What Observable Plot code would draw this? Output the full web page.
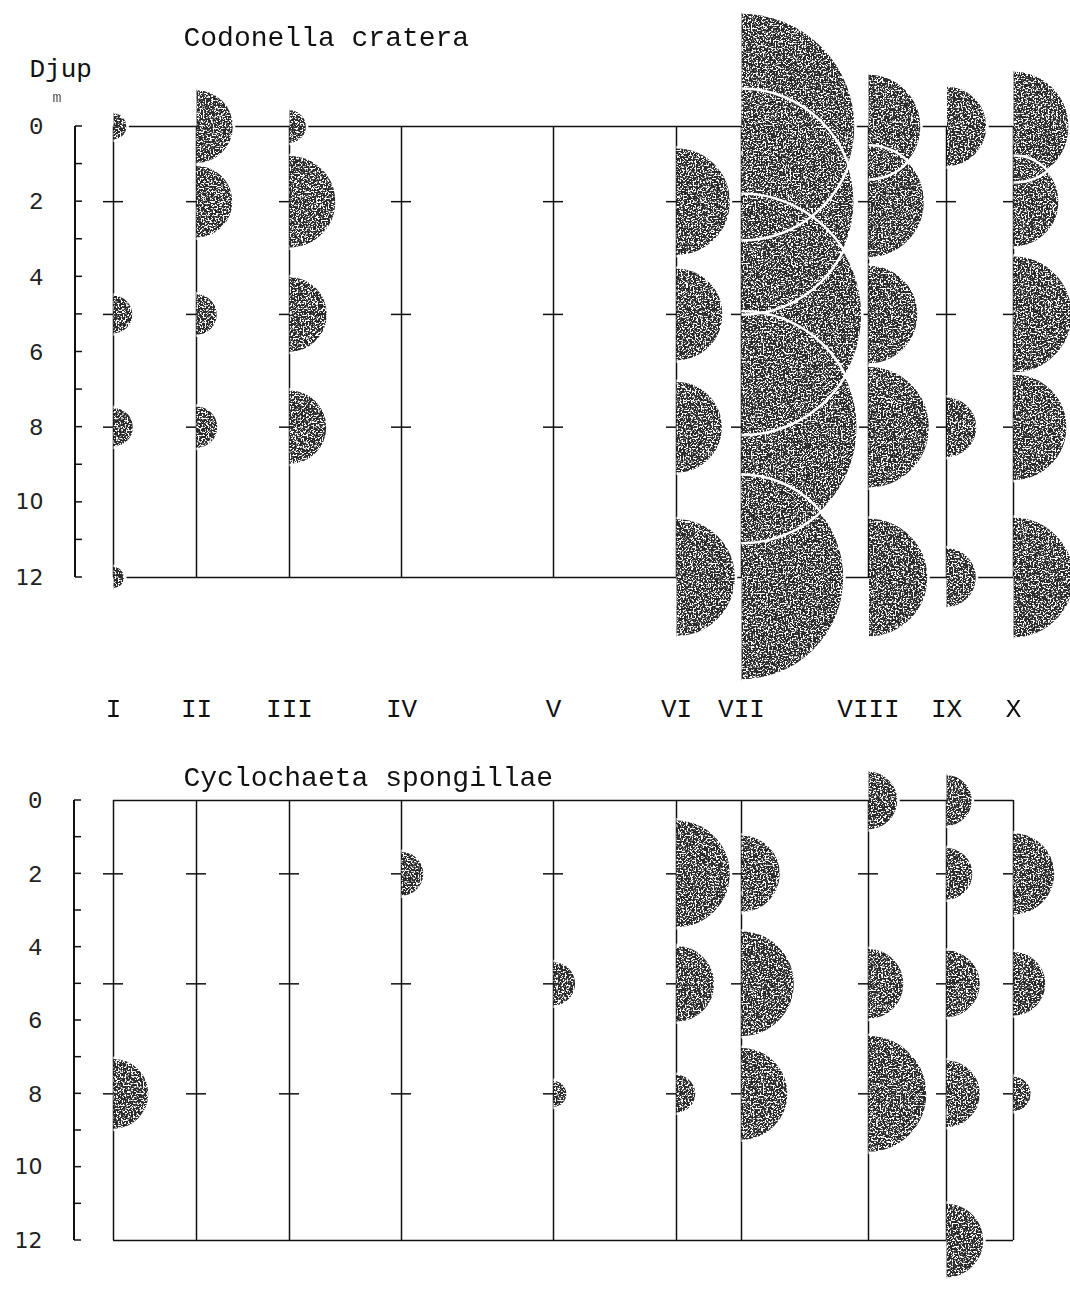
<!DOCTYPE html>
<html><head><meta charset="utf-8">
<script src="https://cdn.jsdelivr.net/npm/d3@7"></script>
<script src="https://cdn.jsdelivr.net/npm/@observablehq/plot@0.6"></script>
<style>
html,body{margin:0;padding:0;background:#fff;overflow:hidden;}
#chart svg{display:block;}
</style></head>
<body>
<svg width="0" height="0" style="position:absolute">
<defs>
<filter id="speckle" x="-5%" y="-5%" width="110%" height="110%" color-interpolation-filters="sRGB">
 <feTurbulence type="fractalNoise" baseFrequency="0.6" numOctaves="3" seed="11" result="noise"/>
 <feColorMatrix in="noise" type="matrix" values="0 0 0 0 1  0 0 0 0 1  0 0 0 0 1  9 0 0 0 -4.5" result="spots"/>
 <feComposite in="spots" in2="SourceGraphic" operator="in" result="clipped"/>
 <feMerge><feMergeNode in="SourceGraphic"/><feMergeNode in="clipped"/></feMerge>
</filter>
</defs></svg>
<div id="chart"></div>
<script>
// ---- data ----
const stations = ["I","II","III","IV","V","VI","VII","VIII","IX","X"];
const stationPos = [0, 83, 176, 288, 440, 563, 628, 755, 833, 900];
const depths = [0, 2, 5, 8, 12];
const depthLabelsTypewriter = [0, 2, 4, 6, 8];
const depthLabelsSans = [10, 12];

// Codonella cratera, relative abundance per station at each depth
const codonella0  = [2.0, 14.1, 3.1, 0, 0, 0,    130, 28.1, 16.8, 31.4];
const codonella2  = [0,   13.7, 22.1, 0, 0, 29.7, 128, 31.9, 0,    21.2];
const codonella5  = [4.0, 4.6, 14.8, 0, 0, 22.1, 146, 25.0, 0,    35.0];
const codonella8  = [4.2, 4.8, 14.4, 0, 0, 21.6, 135, 37.8, 9.6,  29.2];
const codonella12 = [1.4, 0,   0,    0, 0, 35.4, 106, 36.0, 9.3,  37.2];

// Cyclochaeta spongillae
const cyclochaeta0  = [0,    0, 0, 0,   0,   0,    0,    9.0,  7.0,  0];
const cyclochaeta2  = [0,    0, 0, 5.3, 0,   29.7, 15.6, 0,    7.3,  17.6];
const cyclochaeta5  = [0,    0, 0, 0,   5.2, 15.2, 28.6, 13.0, 11.9, 10.9];
const cyclochaeta8  = [13.0, 0, 0, 0,   2.0, 4.0,  22.1, 34.8, 11.9, 3.4];
const cyclochaeta12 = [0,    0, 0, 0,   0,   0,    0,    0,    14.4, 0];

const titleTop = "Codonella cratera";
const titleBottom = "Cyclochaeta spongillae";
const depthWord = "Djup";
const unitWord = "m";

// ---- helpers ----
function rows(series) {
  return depths.flatMap((d, j) => stations.map((s, i) => ({station: s, pos: stationPos[i], depth: d, value: series[j][i]})))
    .filter(r => r.value > 0);
}
const stationRows = stations.map((s, i) => ({station: s, pos: stationPos[i]}));
const tickRows = [2, 5, 8].flatMap(d => stationRows.map(r => ({...r, depth: d})));

const halfDisc = {draw(ctx, size) { const r = Math.sqrt(size / Math.PI); ctx.moveTo(0, -r); ctx.arc(0, 0, r, -Math.PI / 2, Math.PI / 2); ctx.closePath(); }};
const halfArc = {draw(ctx, size) { const r = Math.sqrt(size / Math.PI); ctx.moveTo(0, -r); ctx.arc(0, 0, r, -Math.PI / 2, Math.PI / 2); }};

function depthAxis(index, scales, values, dims) {
  const ns = "http://www.w3.org/2000/svg";
  const g = document.createElementNS(ns, "g");
  const x0 = dims.marginLeft;
  const [d0, d1] = d3.extent(depthLabelsTypewriter.concat(depthLabelsSans));
  const line = document.createElementNS(ns, "path");
  line.setAttribute("d", `M${x0},${scales.y(d0)}V${scales.y(d1)}`);
  line.setAttribute("stroke", "#111"); line.setAttribute("stroke-width", "2"); line.setAttribute("fill", "none");
  g.appendChild(line);
  for (const t of d3.range(d0, d1 + 1)) {
    const tk = document.createElementNS(ns, "path");
    tk.setAttribute("d", `M${x0},${scales.y(t)}h7`);
    tk.setAttribute("stroke", "#111"); tk.setAttribute("stroke-width", "1.5");
    g.appendChild(tk);
  }
  return g;
}

function panel({title, series, height, yRange, margins, titleDy, showStations, extraText}) {
  const data = rows(series);
  const xMin = d3.min(stationPos), xMax = d3.max(stationPos);
  const marks = [
    depthAxis,
    Plot.axisY({ticks: depthLabelsTypewriter, tickSize: 0, tickPadding: 32, fontSize: 24, fontFamily: "Liberation Mono", label: null, fill: "#222"}),
    Plot.axisY({ticks: depthLabelsSans, tickSize: 0, tickPadding: 32, fontSize: 22, fontFamily: "DejaVu Sans", label: null, fill: "#222"}),
    Plot.ruleX(stationRows, {x: "pos", y1: d3.min(depths), y2: d3.max(depths), stroke: "#111", strokeWidth: 1.5}),
    Plot.ruleY([d3.min(depths), d3.max(depths)], {x1: xMin, x2: xMax, stroke: "#111", strokeWidth: 1.5}),
    Plot.ruleY(tickRows, {y: "depth", x1: "pos", x2: "pos", insetLeft: -10, insetRight: -10, stroke: "#111", strokeWidth: 1.5}),
    Plot.dot(data, {x: "pos", y: "depth", r: "value", symbol: halfDisc, fill: "#2a2a2a", stroke: "none", sort: null}),
    Plot.dot(data, {x: "pos", y: "depth", r: "value", symbol: halfArc, fill: "none", stroke: "white", strokeWidth: 2.5, sort: null}),
    Plot.text([title], {frameAnchor: "top-left", dx: 183 - margins.left, dy: titleDy, textAnchor: "start", fontSize: 28, fontFamily: "Liberation Mono", fill: "#111"})
  ];
  if (extraText) marks.push(...extraText);
  if (showStations) {
    marks.push(Plot.text(stationRows, {x: "pos", text: "station", frameAnchor: "bottom", dy: 139, fontSize: 26, fontFamily: "Liberation Mono", fill: "#111"}));
  }
  const svg = Plot.plot({
    width: 1070, height,
    marginLeft: margins.left, marginRight: margins.right, marginTop: margins.top, marginBottom: margins.bottom,
    style: {background: "white", overflow: "hidden"},
    x: {domain: [xMin, xMax], range: [113, 1013], axis: null},
    y: {domain: d3.extent(depths), range: yRange},
    r: {type: "sqrt", domain: [0, 100], range: [0, 100]},
    marks
  });
  const g = svg.querySelector('g[aria-label="dot"]');
  if (g) g.setAttribute("filter", "url(#speckle)");
  return svg;
}

const topPanel = panel({
  title: titleTop,
  series: [codonella0, codonella2, codonella5, codonella8, codonella12],
  height: 740, yRange: [126, 577],
  margins: {left: 75, right: 57, top: 126, bottom: 163},
  titleDy: -100, showStations: true,
  extraText: [
    Plot.text([depthWord], {frameAnchor: "top-left", dx: -46, dy: -68, textAnchor: "start", fontSize: 26, fontFamily: "Liberation Mono", fill: "#111"}),
    Plot.text([unitWord], {frameAnchor: "top-left", dx: -23, dy: -35, fontSize: 15, fontFamily: "Liberation Mono", fill: "#555"})
  ]
});
const bottomPanel = panel({
  title: titleBottom,
  series: [cyclochaeta0, cyclochaeta2, cyclochaeta5, cyclochaeta8, cyclochaeta12],
  height: 552, yRange: [60, 500],
  margins: {left: 74, right: 56, top: 60, bottom: 52},
  titleDy: -34, showStations: false
});
document.getElementById("chart").append(topPanel, bottomPanel);
</script>
</body></html>
